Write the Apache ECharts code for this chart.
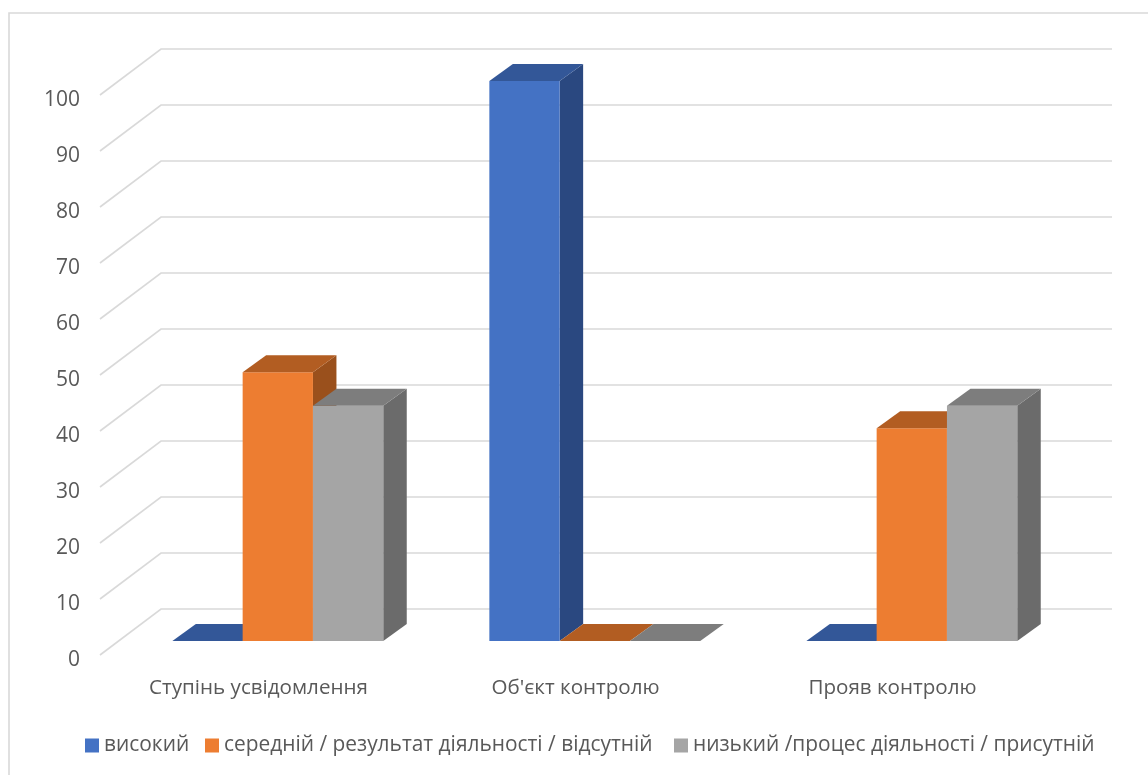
<!DOCTYPE html>
<html><head><meta charset="utf-8">
<style>html,body{margin:0;padding:0;background:#fff}#c{width:1148px;height:775px}</style>
<script src="https://cdn.jsdelivr.net/npm/echarts@6/dist/echarts.min.js"></script>
</head><body><div id="c"></div>
<script>
const categories = ["Ступінь усвідомлення", "Об'єкт контролю", "Прояв контролю"];
const vysokyi = [0, 100, 0];
const serednii = [48, 0, 38];
const nyzkyi = [42, 0, 42];
const seriesNames = ["високий", "середній / результат діяльності / відсутній", "низький /процес діяльності / присутній"];
const yTicks = [0,10,20,30,40,50,60,70,80,90,100];
const FONT = '"Open Sans", sans-serif';
const TEXT = '#595959';
const BACK = [61, -46];   // wall depth in px
const NEAR = [19.3, -14]; // bar front plane offset
const DEPTH = [23.5, -17];
const BAR_W = 70.3;
const LEGEND_LEFT = [80, 200, 669];

function wallItem(params, api) {
  const p = api.coord([0, api.value(0)]);
  const cs = params.coordSys;
  const x0 = cs.x, y = p[1];
  return {
    type: 'polyline', silent: true,
    shape: { points: [[x0, y], [x0 + BACK[0], y + BACK[1]], [x0 + cs.width + BACK[0], y + BACK[1]]] },
    style: { fill: null, stroke: '#d9d9d9', lineWidth: 1.6 }
  };
}
function barRender(idx, front, top, side) {
  return function (params, api) {
    const c = api.value(0), v = api.value(1);
    const p = api.coord([c, v]), b = api.coord([c, 0]);
    const x = p[0] + NEAR[0] + (idx - 1.5) * BAR_W;
    const yt = p[1] + NEAR[1], yb = b[1] + NEAR[1];
    const xr = x + BAR_W, dx = DEPTH[0], dy = DEPTH[1];
    const children = [];
    if (v > 0) {
      children.push({ type: 'polygon', shape: { points: [[xr, yt], [xr + dx, yt + dy], [xr + dx, yb + dy], [xr, yb]] }, style: { fill: side } });
      children.push({ type: 'rect', shape: { x: x, y: yt, width: BAR_W, height: yb - yt }, style: { fill: front } });
    }
    children.push({ type: 'polygon', shape: { points: [[x, yt], [xr, yt], [xr + dx, yt + dy], [x + dx, yt + dy]] }, style: { fill: top } });
    return { type: 'group', children: children };
  };
}
const palette = [
  ['#4472c4', '#335798', '#2a4880'],
  ['#ed7d31', '#b25d22', '#9a501c'],
  ['#a5a5a5', '#7d7d7d', '#6b6b6b']
];
const valuesBySeries = [vysokyi, serednii, nyzkyi];
const chart = echarts.init(document.getElementById('c'), null, { renderer: 'canvas' });
chart.setOption({
  animation: false,
  backgroundColor: '#fff',
  graphic: [{ type: 'polyline', z: -1, silent: true,
    shape: { points: [[9, 775], [9, 13], [1148, 13]] },
    style: { fill: null, stroke: '#d9d9d9', lineWidth: 1.6 } }],
  grid: { left: 100, right: 97, top: 95, bottom: 120, containLabel: false },
  xAxis: { type: 'category', data: categories, axisLine: { show: false }, axisTick: { show: false },
    axisLabel: { color: TEXT, fontFamily: FONT, fontSize: 20.6, margin: 23 } },
  yAxis: { type: 'value', min: 0, max: 100, interval: 10, axisLine: { show: false }, axisTick: { show: false },
    splitLine: { show: false },
    axisLabel: { margin: 20, formatter: '{n|{value}}',
      rich: { n: { color: TEXT, fontFamily: FONT, fontSize: 21, padding: [10, 0, 0, 0] } } } },
  legend: seriesNames.map((n, i) => ({
    left: LEGEND_LEFT[i], top: 730, itemWidth: 14, itemHeight: 14, icon: 'rect',
    textStyle: { color: TEXT, fontFamily: FONT, fontSize: 20.9 },
    data: [n], selectedMode: false })),
  series: [
    { type: 'custom', name: 'walls', silent: true, z: 1, data: yTicks.map(v => [v]), encode: { y: 0 }, renderItem: wallItem }
  ].concat(seriesNames.map((n, i) => ({
    type: 'custom', name: n, z: 2 + i, silent: true,
    itemStyle: { color: palette[i][0] },
    data: valuesBySeries[i].map((v, c) => [c, v]),
    encode: { x: 0, y: 1 },
    renderItem: barRender(i, palette[i][0], palette[i][1], palette[i][2])
  })))
});
</script></body></html>
